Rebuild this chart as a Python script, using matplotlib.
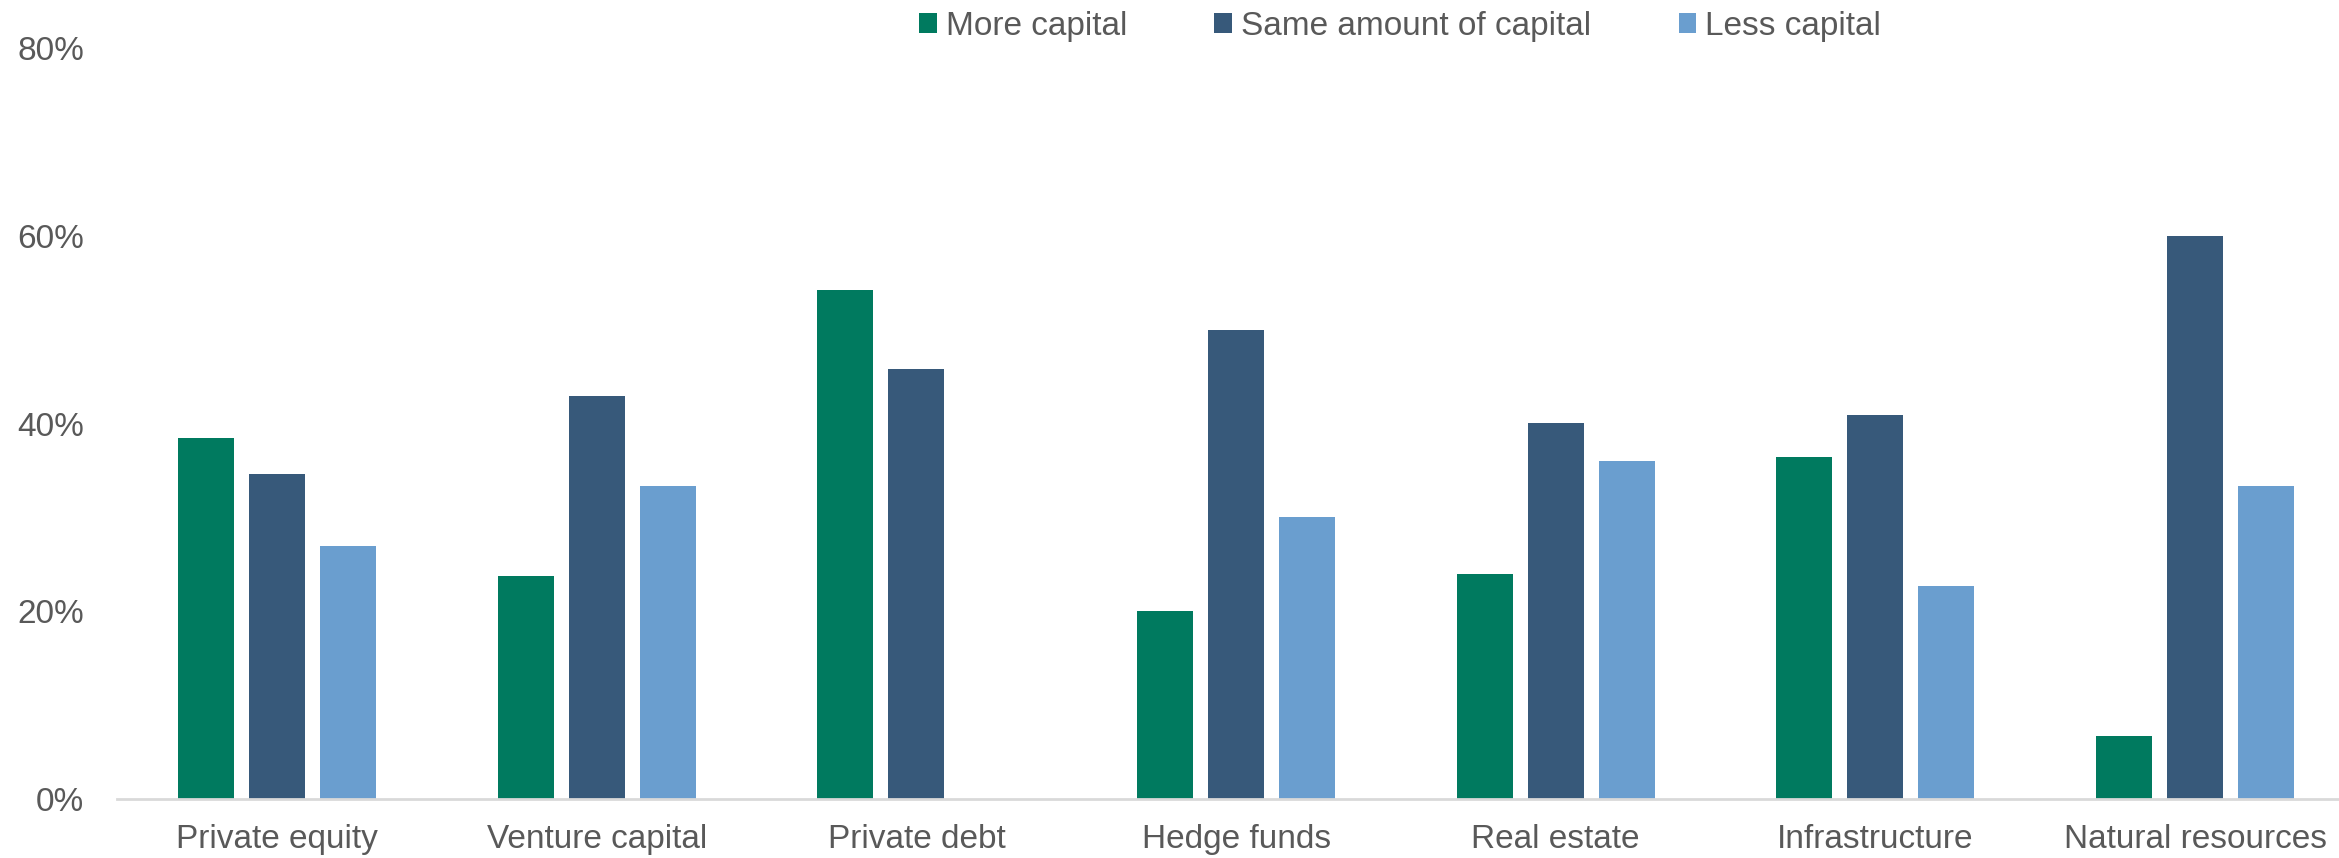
import matplotlib
matplotlib.use("Agg")
import matplotlib.pyplot as plt
import numpy as np

categories = ["Private equity", "Venture capital", "Private debt", "Hedge funds",
              "Real estate", "Infrastructure", "Natural resources"]
series_names = ["More capital", "Same amount of capital", "Less capital"]
more_capital = [38.5, 23.8, 54.2, 20.0, 24.0, 36.4, 6.7]
same_capital = [34.6, 42.9, 45.8, 50.0, 40.0, 40.9, 60.0]
less_capital = [26.9, 33.3, 0.0, 30.0, 36.0, 22.7, 33.3]
y_ticks = [0, 20, 40, 60, 80]
y_tick_labels = ["0%", "20%", "40%", "60%", "80%"]

colors = ["#007A5F", "#37597A", "#6A9ECF"]
text_color = "#595959"
fs = 24

plt.rcParams['font.family'] = ['Liberation Sans', 'DejaVu Sans']

W, H = 2339, 858
fig = plt.figure(figsize=(W / 100, H / 100), dpi=100)
left = 117.3 / W
bottom = 1 - 799 / H
top = 1 - 48 / H
width = 7 * 319.65 / W
ax = fig.add_axes([left, bottom, width, top - bottom])

x = np.arange(len(categories))
bw = 0.175
step = 0.222
for k, (vals, name) in enumerate(zip([more_capital, same_capital, less_capital], series_names)):
    ax.bar(x + (k - 1) * step, vals, width=bw, color=colors[k], label=name, zorder=2)

ax.set_xlim(-0.5, len(categories) - 0.5)
ax.set_ylim(0, 80)
ax.set_yticks(y_ticks)
ax.set_yticklabels(y_tick_labels)
ax.set_xticks(x)
ax.set_xticklabels(categories)
ax.tick_params(axis='both', length=0, labelsize=fs, labelcolor=text_color)
ax.tick_params(axis='y', pad=24)
ax.tick_params(axis='x', pad=18)
for s in ['top', 'right', 'left']:
    ax.spines[s].set_visible(False)
ax.spines['bottom'].set_color('#D9D9D9')
ax.spines['bottom'].set_linewidth(2)
ax.spines['bottom'].set_zorder(3)

leg = fig.legend(loc='center left', bbox_to_anchor=(919 / W, 1 - 26 / H), ncol=3,
                 frameon=False, fontsize=fs, handlelength=0.53, handleheight=0.53,
                 handletextpad=0.27, columnspacing=2.62, borderpad=0, borderaxespad=0)
for t in leg.get_texts():
    t.set_color(text_color)

fig.savefig("out.png", dpi=100)
